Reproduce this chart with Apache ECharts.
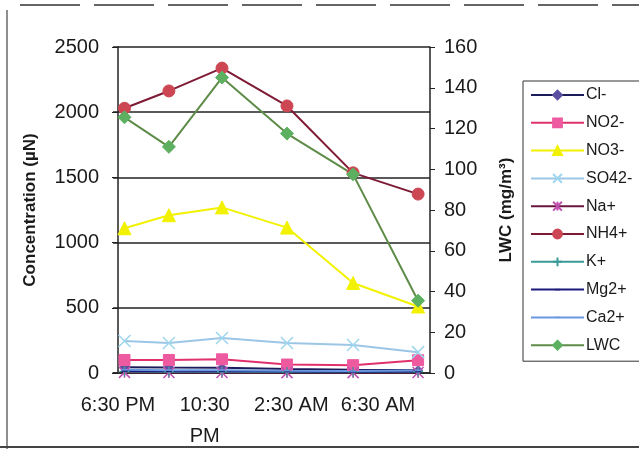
<!DOCTYPE html>
<html>
<head>
<meta charset="utf-8">
<script src="https://cdn.jsdelivr.net/npm/echarts@6/dist/echarts.min.js"></script>
<style>
  html, body { margin: 0; padding: 0; background: #ffffff; }
  #chart { width: 639px; height: 449px; }
</style>
</head>
<body>
<div id="chart"></div>
<script>
// Sampling times, in hours after 6:30 PM
const sampleHours = [0.3, 2.35, 4.8, 7.8, 10.85, 13.85];

// Tick positions (hours after 6:30 PM) and their labels
const timeTicks = [0, 4, 8, 12];
const timeLabels = ['6:30 PM', '10:30\nPM', '2:30 AM', '6:30 AM'];

// Ion concentrations (µN)
const cl   = [45, 42, 40, 30, 25, 22];
const no2  = [100, 100, 105, 65, 60, 98];
const no3  = [1110, 1210, 1270, 1115, 690, 510];
const so4  = [245, 230, 268, 230, 215, 160];
const na   = [5, 4, 4, 3, 3, 4];
const nh4  = [2030, 2163, 2338, 2048, 1535, 1372];
const k    = [12, 10, 10, 8, 8, 10];
const mg   = [15, 14, 15, 12, 10, 12];
const ca   = [25, 22, 22, 18, 15, 20];

// Liquid water content (mg/m3)
const lwc  = [125.5, 111, 145, 117.5, 97.5, 35.5];

const legendNames = ['Cl-', 'NO2-', 'NO3-', 'SO42-', 'Na+', 'NH4+', 'K+', 'Mg2+', 'Ca2+', 'LWC'];

const crossPath = 'path://M0,0L10,10M10,0L0,10';
const starPath = 'path://M0,0L10,10M10,0L0,10M5,0L5,10';
const plusPath = 'path://M5,0L5,10M0,5L10,5';
// short dash kept inside a 10x10 box (corner points fix the bounds)
const dashPath = 'path://M0,0L0,0M10,10L10,10M2,4.2L8,4.2L8,5.8L2,5.8Z';

function pairs(vals) {
  return vals.map((v, i) => [sampleHours[i], v]);
}

function series(name, vals, lineColor, markColor, symbol, size, opts) {
  return Object.assign({
    name: name,
    type: 'line',
    data: pairs(vals),
    symbol: symbol,
    symbolSize: size,
    showAllSymbol: true,
    animation: false,
    lineStyle: { color: lineColor, width: 2 },
    itemStyle: { color: markColor, borderColor: markColor, borderWidth: 1 }
  }, opts || {});
}

const chart = echarts.init(document.getElementById('chart'), null, { renderer: 'canvas' });

chart.setOption({
  backgroundColor: '#ffffff',
  animation: false,
  textStyle: { fontFamily: 'Liberation Sans, Arial, sans-serif' },
  grid: { left: 113, right: 209, top: 47, bottom: 76, containLabel: false, outerBoundsMode: 'none' },
  xAxis: {
    type: 'value',
    min: -0.23,
    max: 14.4,
    axisLine: { show: true, onZero: false, lineStyle: { color: '#222', width: 1.5 } },
    axisTick: { show: true, customValues: timeTicks, length: 3, inside: true, lineStyle: { color: '#444' } },
    splitLine: { show: false },
    axisLabel: {
      customValues: timeTicks,
      formatter: function (v) {
        const i = timeTicks.indexOf(v);
        return i >= 0 ? timeLabels[i] : '';
      },
      fontSize: 20,
      lineHeight: 31,
      margin: 17,
      color: '#1a1a1a'
    }
  },
  yAxis: [
    {
      type: 'value',
      min: 0,
      max: 2500,
      interval: 500,
      name: 'Concentration (µN)',
      nameLocation: 'middle',
      nameRotate: 90,
      nameGap: 74,
      nameTextStyle: { fontSize: 17, fontWeight: 'bold', color: '#1a1a1a' },
      axisLine: { show: true, lineStyle: { color: '#222', width: 1.5 } },
      axisTick: { show: true, length: 6, lineStyle: { color: '#222' } },
      splitLine: { show: true, lineStyle: { color: '#222', width: 1.5 } },
      axisLabel: { fontSize: 20, margin: 14, color: '#1a1a1a', formatter: function (v) { return String(v); } }
    },
    {
      type: 'value',
      min: 0,
      max: 160,
      interval: 20,
      position: 'right',
      name: 'LWC (mg/m³)',
      nameLocation: 'middle',
      nameRotate: 90,
      nameGap: 68,
      nameTextStyle: { fontSize: 17, fontWeight: 'bold', color: '#1a1a1a' },
      axisLine: { show: true, lineStyle: { color: '#222', width: 1.5 } },
      axisTick: { show: true, length: 5, lineStyle: { color: '#222' } },
      splitLine: { show: false },
      axisLabel: { fontSize: 20, margin: 14, color: '#1a1a1a' }
    }
  ],
  legend: {
    orient: 'vertical',
    left: 523,
    top: 81,
    padding: [6, 30, 8, 7],
    borderColor: '#333',
    borderWidth: 1,
    backgroundColor: '#ffffff',
    itemWidth: 53,
    itemHeight: 11,
    itemGap: 11.8,
    textStyle: { fontSize: 16, color: '#1a1a1a', padding: [0, 0, 0, -3] },
    data: legendNames
  },
  series: [
    series('Cl-', cl, '#1c1c5a', '#5a4fa0', 'diamond', 9),
    series('NO2-', no2, '#e0306e', '#ee5aa0', 'rect', 11),
    series('NO3-', no3, '#f2f200', '#f2f200', 'triangle', 13),
    series('SO42-', so4, '#9cc6e6', '#9ed6ee', crossPath, 12, { itemStyle: { color: 'none', borderColor: '#9ed6ee', borderWidth: 1.5 } }),
    series('Na+', na, '#6a1440', '#d050c0', starPath, 11, { itemStyle: { color: 'none', borderColor: '#c050b0', borderWidth: 1.5 } }),
    series('NH4+', nh4, '#7e1a34', '#cc4654', 'circle', 12),
    series('K+', k, '#3a9a98', '#3a9a98', plusPath, 10, { itemStyle: { color: 'none', borderColor: '#3a9a98', borderWidth: 1.2 } }),
    series('Mg2+', mg, '#1a1a7a', '#1a1a7a', dashPath, 10, { itemStyle: { color: '#1a1a7a', borderWidth: 0 } }),
    series('Ca2+', ca, '#6a98e0', '#6a98e0', dashPath, 10, { itemStyle: { color: '#6a98e0', borderWidth: 0 } }),
    series('LWC', lwc, '#5e8c48', '#5cb060', 'diamond', 13, { yAxisIndex: 1 })
  ],
  graphic: [
    { type: 'line', shape: { x1: 20, y1: 5, x2: 639, y2: 5 }, style: { stroke: '#333', lineWidth: 1.5, lineDash: [60, 14] }, silent: true },
    { type: 'line', shape: { x1: 7, y1: 10, x2: 7, y2: 449 }, style: { stroke: '#444', lineWidth: 1.2 }, silent: true },
    { type: 'line', shape: { x1: 0, y1: 447, x2: 639, y2: 447 }, style: { stroke: '#444', lineWidth: 2 }, silent: true }
  ]
});
</script>
</body>
</html>
